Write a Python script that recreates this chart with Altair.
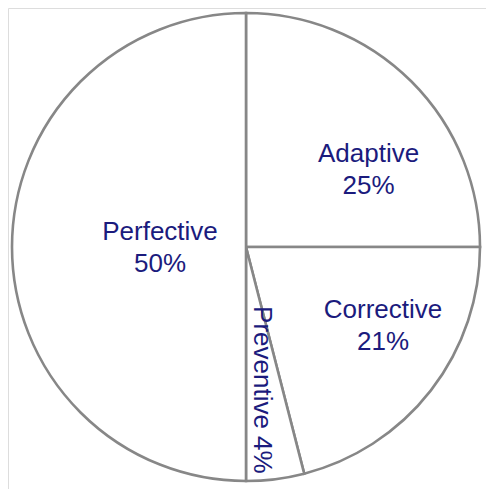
import altair as alt
import pandas as pd

categories = ["Adaptive", "Corrective", "Preventive", "Perfective"]
values = [25, 21, 4, 50]
labels = ["Adaptive\n25%", "Corrective\n21%", "Preventive 4%", "Perfective\n50%"]
order = [0, 1, 2, 3]

df = pd.DataFrame({"category": categories, "value": values, "label": labels, "idx": order})

CX, CY, R = 238, 239, 234
theta_scale = alt.Scale(domain=[0, 100])

base = alt.Chart(df).transform_window(
    cum="sum(value)", sort=[alt.SortField("idx", order="ascending")], frame=[None, 0]
).transform_calculate(
    start="datum.cum - datum.value", mid="datum.cum - datum.value / 2"
).encode(x=alt.value(CX), y=alt.value(CY))

arcs = base.mark_arc(radius=R, fill="white", stroke="#878787", strokeWidth=2.6).encode(
    theta=alt.Theta("start:Q", scale=theta_scale, stack=None),
    theta2="cum:Q",
)

txt_style = dict(font="Liberation Sans", fontSize=26, color="#1b1b7d", lineBreak="\n",
                 lineHeight=32, align="center", baseline="middle")

def label(cat, radius, dx=0, dy=0, angle=0):
    return base.transform_filter(alt.datum.category == cat).mark_text(
        radius=radius, dx=dx, dy=dy, angle=angle, **txt_style
    ).encode(
        theta=alt.Theta("mid:Q", scale=theta_scale, stack=None),
        text="label:N",
    )

chart = alt.layer(
    arcs,
    label("Adaptive", 145, 20, 10),
    label("Corrective", 157, 13, -33),
    label("Preventive", 144, 0, 2, 90),
    label("Perfective", 86, 0, -15),
).properties(
    width=478, height=481, padding=0, autosize=alt.AutoSizeParams(type="none")
).configure_view(stroke=None).configure(background="white")

chart.save("out.html", embed_options={"renderer": "svg", "actions": False})
